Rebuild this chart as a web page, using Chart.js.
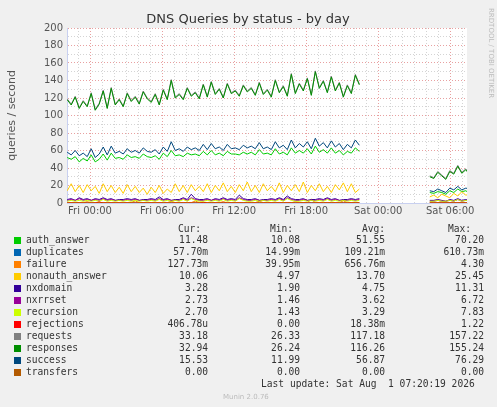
<!DOCTYPE html>
<html><head><meta charset="utf-8">
<script src="https://cdn.jsdelivr.net/npm/chart.js@4/dist/chart.umd.min.js"></script>
<style>
body{margin:0;background:#f0f0f0;width:497px;height:407px;overflow:hidden;position:relative;font-family:"DejaVu Sans Mono",monospace;}
#c{position:absolute;left:0;top:0}
.leg{position:absolute;font-size:9.6px;color:#333;white-space:pre;line-height:12px}
.sw{position:absolute;width:7px;height:7px}
.r{position:absolute;text-align:right}
</style></head><body>
<canvas id="c" width="497" height="230"></canvas>
<div id="legend"></div>
<script>
// time axis: hours relative to Fri 00:00
const seg1Start = -1.9, seg1Step = 1/3;
const seg2Start = 28.3, seg2Step = 1/3;
const responses1 = [118,112,121,108,116,110,125,106,113,128,108,131,112,118,110,125,116,121,113,127,119,115,124,112,129,118,140,120,124,118,131,122,126,119,135,121,138,124,130,120,136,125,128,122,134,127,131,123,137,124,129,121,140,126,133,122,147,125,136,128,142,123,150,131,139,126,144,128,137,121,134,125,146,135];
const responses2 = [30,28,35,31,27,36,33,42,34,38,32];
const requests1 = [119,113,122,109,117,111,126,107,114,129,109,132,113,119,111,126,117,122,114,128,120,116,125,113,130,119,141,121,125,119,132,123,127,120,136,122,139,125,131,121,137,126,129,123,135,128,132,124,138,125,130,122,141,127,134,123,148,126,137,129,143,124,151,132,140,127,145,129,138,122,135,126,147,136];
const requests2 = [31,29,36,32,28,37,34,43,35,39,33];
const success1 = [58,55,60,54,57,53,62,52,56,64,55,65,57,59,56,62,58,60,57,63,59,58,61,56,64,59,70,60,62,59,64,61,63,60,67,61,68,62,64,60,67,62,63,61,66,63,65,62,69,62,64,61,70,63,66,61,72,63,68,64,70,62,74,65,69,63,71,64,68,61,67,63,72,66];
const success2 = [14,13,16,14,12,17,15,19,15,17,16];
const auth1 = [52,50,53,47,51,48,55,47,50,56,49,57,51,52,50,55,52,53,51,56,53,52,54,50,57,53,60,54,55,53,57,55,56,54,59,55,60,55,57,54,59,56,56,55,58,56,58,55,61,56,57,55,62,56,58,55,63,57,60,57,62,56,65,58,61,57,63,57,60,55,59,57,63,59];
const auth2 = [12,11,13,12,10,14,12,16,13,14,11];
const nonauth1 = [14,22,13,20,12,21,14,19,11,22,13,20,12,18,11,21,13,19,12,17,10,18,12,20,11,16,12,22,13,20,12,21,14,19,13,22,12,20,14,23,13,19,12,21,14,24,13,20,12,22,14,19,13,23,12,20,14,21,13,24,12,20,14,22,13,19,12,21,15,23,13,22,12,16];
const nonauth2 = [7,9,6,10,8,6,11,8,13,9,10];
const nxdomain1 = [4,5,3,6,4,5,3,5,4,6,4,5,3,4,4,5,4,5,3,4,4,5,4,7,4,5,3,4,4,6,4,10,5,4,4,5,3,5,4,6,4,5,4,9,5,4,4,5,3,4,4,5,4,6,4,8,5,4,4,5,3,4,4,5,4,6,4,5,3,4,4,5,4,5];
const nxdomain2 = [3,3,4,3,2,4,3,5,3,4,3];
const nxrrset1 = [3,4,3,5,3,4,3,4,3,5,3,4,3,3,3,4,3,4,3,3,3,4,3,5,3,4,3,3,3,5,3,6,4,3,3,4,3,4,3,5,3,4,3,6,4,3,3,4,3,3,3,4,3,5,3,6,4,3,3,4,3,3,3,4,3,5,3,4,3,3,3,4,3,4];
const nxrrset2 = [2,2,3,2,2,3,2,4,2,3,3];
const recursion1 = [2,3,2,3,2,3,2,3,2,4,2,3,2,3,2,3,2,3,2,3,2,3,2,4,2,3,2,3,2,4,2,5,3,2,2,3,2,3,2,4,2,3,2,5,3,2,2,3,2,3,2,3,2,4,2,5,3,2,2,3,2,3,2,3,2,4,2,3,2,3,2,3,2,3];
const recursion2 = [2,2,3,2,2,3,2,4,2,3,3];
const failure1 = [0.3,0.5,0.2,0.4,0.3,1.5,0.2,0.4,0.3,0.5,0.2,0.4,0.3,0.5,0.2,0.3,0.4,2.5,0.3,0.5,0.2,0.4,0.3,0.5,0.2,0.4,1.8,0.5,0.2,0.4,0.3,0.5,2.2,0.4,0.3,0.5,0.2,0.4,0.3,1.6,0.2,0.4,0.3,0.5,0.2,0.4,0.3,0.5,2.0,0.4,0.3,0.5,0.2,0.4,0.3,0.5,0.2,1.4,0.3,0.5,0.2,4.3,0.3,0.5,0.2,0.4,0.3,0.5,0.2,2.6,0.3,0.5,0.2,0.4];
const failure2 = [0.2,0.1,0.3,0.2,0.1,0.2,0.1,0.3,0.2,0.1,0.1];
const rejections1 = [0,0,0,0,0,0,0,0,1.2,0,0,0,0,0,0,0,0,0,0,0,0,0,0,0,0,0,0,0,0,0,0,0,0,0,0.8,0,0,0,0,0,0,0,0,0,0,0,0,0,0,0,0,0,0,0,0,0,0,0,0,0,0,0,0,0,0,0,0,0,0,0,0,0,0,0];
const rejections2 = [0,0,0,0,0,0,0,0,0,0,0];
const duplicates1 = [0.1,0.1,0.1,0.1,0.1,0.1,0.1,0.1,0.1,0.1,0.1,0.1,0.1,0.1,0.1,0.1,0.1,0.1,0.1,0.1,0.1,0.1,0.1,0.1,0.1,0.1,0.1,0.1,0.1,0.1,0.1,0.1,0.1,0.1,0.1,0.1,0.1,0.1,0.1,0.1,0.1,0.1,0.1,0.1,0.1,0.1,0.1,0.1,0.1,0.1,0.1,0.1,0.1,0.1,0.1,0.1,0.1,0.1,0.1,0.1,0.1,0.1,0.1,0.1,0.1,0.1,0.1,0.1,0.1,0.1,0.1,0.1,0.1,0.1];
const duplicates2 = [0.1,0.1,0.1,0.1,0.1,0.1,0.1,0.1,0.1,0.1,0.1];
const seriesNames = ["auth_answer","duplicates","failure","nonauth_answer","nxdomain","nxrrset","recursion","rejections","requests","responses","success","transfers"];
const seriesColors = ["#00cc00","#0066b3","#ff8000","#ffcc00","#330099","#990099","#ccff00","#ff0000","#808080","#008f00","#00487d","#b35a00"];
const curVals = ["11.48","57.70m","127.73m","10.06","3.28","2.73","2.70","406.78u","33.18","32.94","15.53","0.00"];
const minVals = ["10.08","14.99m","39.95m","4.97","1.90","1.46","1.43","0.00","26.33","26.24","11.99","0.00"];
const avgVals = ["51.55","109.21m","656.76m","13.70","4.75","3.62","3.29","18.38m","117.18","116.26","56.87","0.00"];
const maxVals = ["70.20","610.73m","4.30","25.45","11.31","6.72","7.83","1.22","157.22","155.24","76.29","0.00"];
const yTicks = [0,20,40,60,80,100,120,140,160,180,200];

function pts(a,b){
  const out=[];
  a.forEach((v,i)=>out.push({x:seg1Start+i*seg1Step,y:v}));
  out.push({x:(seg1Start+a.length*seg1Step+seg2Start)/2,y:null});
  b.forEach((v,i)=>out.push({x:seg2Start+i*seg2Step,y:v}));
  return out;
}
const transfers1 = duplicates1.map(()=>0), transfers2 = duplicates2.map(()=>0);
const raw = {
 auth_answer:[auth1,auth2], duplicates:[duplicates1,duplicates2], failure:[failure1,failure2],
 nonauth_answer:[nonauth1,nonauth2], nxdomain:[nxdomain1,nxdomain2], nxrrset:[nxrrset1,nxrrset2],
 recursion:[recursion1,recursion2], rejections:[rejections1,rejections2], requests:[requests1,requests2],
 responses:[responses1,responses2], success:[success1,success2], transfers:[transfers1,transfers2]
};
const datasets = seriesNames.map((n,i)=>({label:n,data:pts(raw[n][0],raw[n][1]),borderColor:seriesColors[i],
  borderWidth:1,pointRadius:0,spanGaps:false,tension:0,order:12-i}));

const isMajorY = v => v%20===0, isMajorX = v => ((v%6)+6)%6===0;
const deco = {id:'deco',
 beforeDraw(c){const {ctx,chartArea:a}=c;ctx.save();ctx.fillStyle='#f0f0f0';ctx.fillRect(0,0,c.width,c.height);
   ctx.fillStyle='#fff';ctx.fillRect(a.left,a.top,a.right-a.left,a.bottom-a.top);ctx.restore();},
 afterDraw(c){const ctx=c.ctx;ctx.save();
   ctx.fillStyle='#333';ctx.font='13px "DejaVu Sans"';ctx.textAlign='center';ctx.fillText('DNS Queries by status - by day',248,23);
   ctx.translate(489,8);ctx.rotate(Math.PI/2);ctx.fillStyle='#bbb';ctx.font='7px "DejaVu Sans"';ctx.textAlign='left';
   ctx.fillText('RRDTOOL / TOBI OETIKER',0,0);ctx.restore();}
};
new Chart(document.getElementById('c'),{type:'line',data:{datasets},
 options:{responsive:false,animation:false,devicePixelRatio:1,
  layout:{padding:{top:28,right:30,left:0,bottom:0}},
  plugins:{legend:{display:false},tooltip:{enabled:false}},
  scales:{
   x:{type:'linear',min:-1.917,max:31.4,
     afterBuildTicks(s){const t=[];for(let h=-1;h<=31;h++)t.push({value:h});s.ticks=t;},
     afterFit(s){s.height=27;},
     ticks:{autoSkip:false,maxRotation:0,color:'#555',font:{family:'DejaVu Sans',size:10},padding:2,
       callback:v=>isMajorX(v)?(v<24?'Fri ':'Sat ')+String(((v%24)+24)%24).padStart(2,'0')+':00':''},
     grid:{color:c=>isMajorX(c.tick.value)?'#e8a0a0':'#d4d4d4',drawTicks:false,lineWidth:1},
     border:{color:'#c8d0f0',dash:[1,2]}},
   y:{min:0,max:200,
     afterBuildTicks(s){const t=[];for(let v=0;v<=200;v+=10)t.push({value:v});s.ticks=t;},
     afterFit(s){s.width=67;},
     title:{display:true,text:'queries / second',color:'#555',font:{family:'DejaVu Sans',size:11},padding:{top:6,bottom:0}},
     ticks:{autoSkip:false,color:'#555',font:{family:'DejaVu Sans',size:10},padding:4,
       callback:v=>yTicks.includes(v)?String(v):''},
     grid:{color:c=>isMajorY(c.tick.value)?'#e8a0a0':'#d4d4d4',drawTicks:false,lineWidth:1},
     border:{color:'#c8d0f0',dash:[1,2]}}
  }},plugins:[deco]});

let h='';
const hdrY=223;
h+=`<div class="leg r" style="left:140px;width:61px;top:${hdrY}px">Cur:</div>`;
h+=`<div class="leg r" style="left:232px;width:61px;top:${hdrY}px">Min:</div>`;
h+=`<div class="leg r" style="left:324px;width:61px;top:${hdrY}px">Avg:</div>`;
h+=`<div class="leg r" style="left:410px;width:61px;top:${hdrY}px">Max:</div>`;
seriesNames.forEach((n,i)=>{const y=234+i*12;
 h+=`<div class="sw" style="left:14px;top:${y+3}px;background:${seriesColors[i]}"></div>`;
 h+=`<div class="leg" style="left:26px;top:${y}px">${n}</div>`;
 h+=`<div class="leg r" style="left:100px;width:108px;top:${y}px">${curVals[i]}</div>`;
 h+=`<div class="leg r" style="left:190px;width:110px;top:${y}px">${minVals[i]}</div>`;
 h+=`<div class="leg r" style="left:280px;width:105px;top:${y}px">${avgVals[i]}</div>`;
 h+=`<div class="leg r" style="left:380px;width:104px;top:${y}px">${maxVals[i]}</div>`;
});
h+=`<div class="leg" style="left:261px;top:378px">Last update: Sat Aug  1 07:20:19 2026</div>`;
h+=`<div class="leg" style="left:223px;top:391px;font-family:'DejaVu Sans';font-size:7px;color:#bbb">Munin 2.0.76</div>`;
document.getElementById('legend').innerHTML=h;
</script></body></html>
